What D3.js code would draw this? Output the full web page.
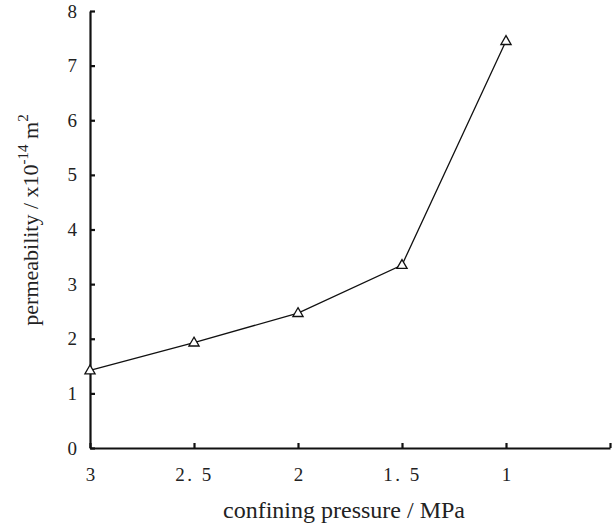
<!DOCTYPE html>
<html>
<head>
<meta charset="utf-8">
<script src="https://cdn.jsdelivr.net/npm/d3@7"></script>
<style>
  body { margin: 0; background: #fff; }
  svg { display: block; }
</style>
</head>
<body>
<svg id="chart" width="612" height="526"></svg>
<script>
(function() {

  'use strict';

  // confining pressure (MPa) and measured permeability (x10^-14 m^2)
  var pressures = [3, 2.5, 2, 1.5, 1];
  var permeability = [1.42, 1.93, 2.47, 3.35, 7.45];
  var xTicks = [3, 2.5, 2, 1.5, 1, 0.5];
  var xTickLabels = ['3', '2. 5', '2', '1. 5', '1', ''];
  var yTicks = [0, 1, 2, 3, 4, 5, 6, 7, 8];

  var serif = 'Times New Roman, Liberation Serif, DejaVu Serif, serif';

  var svg = d3.select('#chart');

  var x = d3.scaleLinear().domain([3, 0.5]).range([90, 610]);
  var y = d3.scaleLinear().domain([0, 8]).range([448, 11]);

  // axes, ticks pointing inward
  var xAxis = d3.axisBottom(x)
    .tickValues(xTicks)
    .tickSize(-5)
    .tickSizeOuter(0)
    .tickPadding(20)
    .tickFormat(function(d, i) { return xTickLabels[i]; });

  var yAxis = d3.axisLeft(y)
    .tickValues(yTicks)
    .tickSize(-5)
    .tickSizeOuter(0)
    .tickPadding(13)
    .tickFormat(d3.format('d'));

  var gx = svg.append('g')
    .attr('transform', 'translate(0,' + y(0) + ')')
    .call(xAxis);

  var gy = svg.append('g')
    .attr('transform', 'translate(' + x(3) + ',0)')
    .call(yAxis);

  [gx, gy].forEach(function(g) {
    g.attr('font-family', serif).attr('font-size', 19);
    g.select('.domain').attr('stroke', '#111').attr('stroke-width', 2.2);
    g.selectAll('.tick line').attr('stroke', '#111').attr('stroke-width', 2.2);
    g.selectAll('.tick text')
      .attr('font-family', serif)
      .attr('font-size', 19)
      .attr('fill', '#222')
      .style('white-space', 'pre');
  });

  // wide spacing on the decimal labels
  gx.selectAll('.tick text')
    .filter(function() { return this.textContent.length > 1; })
    .attr('letter-spacing', 2.5)
    .attr('dx', 0);

  // series line
  var line = d3.line()
    .x(function(d, i) { return x(pressures[i]); })
    .y(function(d) { return y(d); });

  svg.append('path')
    .datum(permeability)
    .attr('d', line)
    .attr('fill', 'none')
    .attr('stroke', '#111')
    .attr('stroke-width', 1.3);

  // open triangle markers
  var tri = d3.symbol().type(d3.symbolTriangle).size(45);
  svg.selectAll('.marker')
    .data(permeability)
    .enter().append('path')
    .attr('class', 'marker')
    .attr('d', tri)
    .attr('transform', function(d, i) {
      return 'translate(' + x(pressures[i]) + ',' + (y(d) + 0.5) + ')';
    })
    .attr('fill', '#fff')
    .attr('stroke', '#111')
    .attr('stroke-width', 1.3);

  // axis titles
  svg.append('text')
    .attr('x', 344)
    .attr('y', 518)
    .attr('text-anchor', 'middle')
    .attr('font-family', serif)
    .attr('font-size', 24)
    .attr('fill', '#222')
    .text('confining pressure / MPa');

  var yl = svg.append('text')
    .attr('transform', 'translate(38,220) rotate(-90)')
    .attr('text-anchor', 'middle')
    .attr('font-family', serif)
    .attr('font-size', 22)
    .attr('fill', '#222');
  yl.append('tspan').text('permeability / x10');
  yl.append('tspan').attr('dy', -10).attr('font-size', 15).text('-14');
  yl.append('tspan').attr('dy', 10).text(' m');
  yl.append('tspan').attr('dy', -10).attr('font-size', 15).text('2');

})();
</script>
</body>
</html>
